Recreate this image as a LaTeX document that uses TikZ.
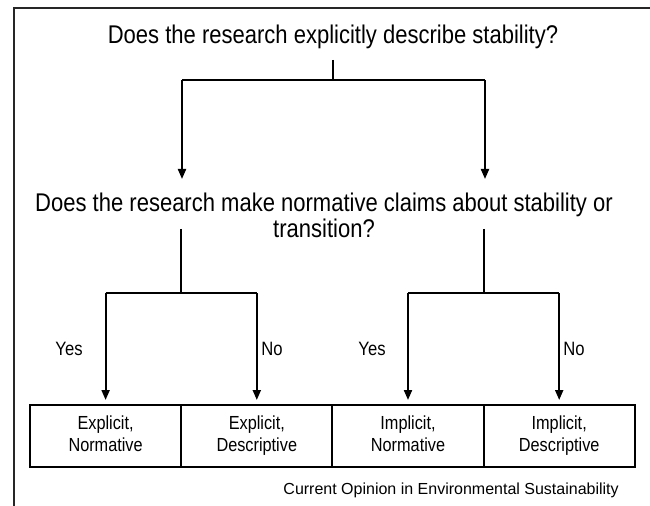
\documentclass[tikz,border=0pt]{standalone}
\usepackage{fontspec}
\setmainfont{Liberation Sans}
\newfontfamily\narrowsans[FakeStretch=0.86]{Liberation Sans}
\usetikzlibrary{arrows.meta}
\begin{document}
\begin{tikzpicture}[x=0.75pt,y=-0.75pt,
  arr/.style={line width=1.5pt, -{Triangle[width=6pt,length=7.5pt]}},
  q/.style={font=\narrowsans\fontsize{19.2}{19.5}\selectfont, align=center, inner sep=0pt},
  lbl/.style={font=\narrowsans\fontsize{14.5}{15}\selectfont, inner sep=0pt, text height=10.5pt, text depth=0pt},
  cell/.style={draw, line width=1.5pt, minimum width=113.4pt, minimum height=46.5pt, inner sep=0pt, align=center, font=\narrowsans\fontsize{14.2}{16.5}\selectfont},
  foot/.style={font=\fontsize{12}{14}\selectfont, inner sep=0pt, anchor=east}]
\useasboundingbox (0,0) rectangle (650,506);
\draw[line width=1.5pt, black!85] (14,506) -- (14,8) -- (650,8);

\node[q] (q1) at (333,37) {Does the research explicitly describe stability?};
\node[q] (q2) at (324,215) {Does the research make normative claims about stability or\\transition?};

\coordinate (s1) at (333,60);
\coordinate (j1) at (333,80);
\coordinate (l1) at (182,80);
\coordinate (r1) at (485,80);
\coordinate (t1l) at (182,179);
\coordinate (t1r) at (485,179);
\draw[line width=1.5pt] (s1) -- (j1);
\draw[line width=1.5pt] (l1) -- (r1);
\draw[arr] (l1) -- (t1l);
\draw[arr] (r1) -- (t1r);

\node[cell] (c1) at (105.6,436) {\strut Explicit,\\\strut Normative};
\node[cell] (c2) at (256.8,436) {\strut Explicit,\\\strut Descriptive};
\node[cell] (c3) at (408,436) {\strut Implicit,\\\strut Normative};
\node[cell] (c4) at (559.2,436) {\strut Implicit,\\\strut Descriptive};

\coordinate (s2l) at (181,229);
\coordinate (j2l) at (181,293);
\coordinate (s2r) at (484,229);
\coordinate (j2r) at (484,293);
\coordinate (a2l) at (c1.center |- j2l);
\coordinate (b2l) at (c2.center |- j2l);
\coordinate (a2r) at (c3.center |- j2r);
\coordinate (b2r) at (c4.center |- j2r);
\draw[line width=1.5pt] (s2l) -- (j2l);
\draw[line width=1.5pt] (a2l) -- (b2l);
\draw[line width=1.5pt] (s2r) -- (j2r);
\draw[line width=1.5pt] (a2r) -- (b2r);
\draw[arr, shorten >=3pt] (a2l) -- (c1.north);
\draw[arr, shorten >=3pt] (b2l) -- (c2.north);
\draw[arr, shorten >=3pt] (a2r) -- (c3.north);
\draw[arr, shorten >=3pt] (b2r) -- (c4.north);

\node[lbl] (y1) at (69,348) {Yes};
\node[lbl] (n1) at (272,348) {No};
\node[lbl] (y2) at (372,348) {Yes};
\node[lbl] (n2) at (574,348) {No};

\node[foot] (ft) at (619,490) {Current Opinion in Environmental Sustainability};
\end{tikzpicture}
\end{document}
